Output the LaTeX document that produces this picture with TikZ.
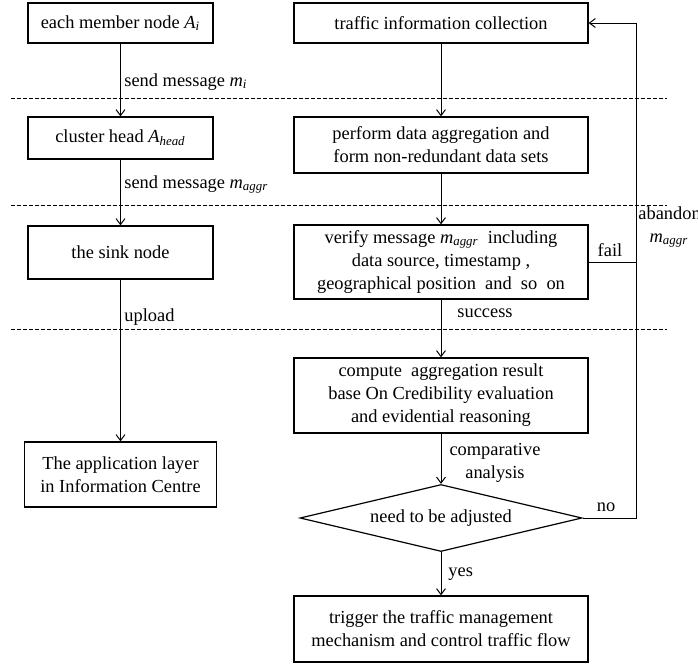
\documentclass[tikz,border=0pt]{standalone}
\usepackage{fontspec}
\setmainfont{Liberation Serif}
\usetikzlibrary{arrows.meta,shapes.geometric}
\newcommand{\sub}[2]{\textit{#1}\textsubscript{\textit{#2}}}
\begin{document}
\begin{tikzpicture}[x=0.5pt,y=-0.5pt,
  font=\fontsize{9.2}{11.5}\selectfont,
  box/.style={draw, line width=0.6pt, align=center, inner sep=1pt},
  lbox/.style={box, minimum width=92.5pt},
  rbox/.style={box, minimum width=147pt},
  arr/.style={line width=0.5pt, -{Straight Barb[length=3pt,width=4.5pt]}},
  conn/.style={line width=0.5pt},
  sep/.style={line width=0.45pt, dash pattern=on 2pt off 1pt},
  lab/.style={inner sep=1pt, align=center}]
\useasboundingbox (0,0) rectangle (698,664);
% separators
\draw[sep] (11,98) -- (667,98);
\draw[sep] (11,205) -- (667,205);
\draw[sep] (11,329) -- (667,329);
% left column
\node[lbox, minimum height=20pt] (ai) at (120.5,23) {each member node \sub{A}{i}};
\node[lbox, minimum height=21pt] (head) at (120.5,138) {cluster head \sub{A}{head}};
\node[lbox, minimum height=26.5pt] (sink) at (120.5,252.5) {the sink node};
\node[box, minimum width=96pt, minimum height=32.5pt] (app) at (120.5,474.5) {The application layer\\in Information Centre};
\draw[arr] (ai) -- (head);
\draw[arr] (head) -- (sink);
\draw[arr] (sink) -- (app);
\node[lab, anchor=west] (l1) at (122,82) {send message \sub{m}{i}};
\node[lab, anchor=west] (l2) at (122,184) {send message \sub{m}{aggr}};
\node[lab, anchor=west] (l3) at (122,317) {upload};
% right column
\node[rbox, minimum height=20pt] (traffic) at (441,23) {traffic information collection};
\node[rbox, minimum height=28pt] (perform) at (441,145) {perform data aggregation and\\form non-redundant data sets};
\node[rbox, minimum height=37pt] (verify) at (441,262) {verify message \sub{m}{aggr}\ \ including\\data source, timestamp ,\\geographical position\ \ and\ \ so\ \ on};
\node[rbox, minimum height=37.5pt] (compute) at (441,395.5) {compute\ \ aggregation result\\base On Credibility evaluation\\and evidential reasoning};
\node[draw, line width=0.6pt, diamond, aspect=4.21, inner sep=0pt, minimum width=141pt, minimum height=33.5pt] (adj) at (441,518) {need to be adjusted};
\node[rbox, minimum height=33pt] (trigger) at (441,629) {trigger the traffic management\\mechanism and control traffic flow};
\draw[arr] (traffic) -- (perform);
\draw[arr] (perform) -- (verify);
\draw[arr] (verify) -- (compute);
\draw[arr] (compute) -- (adj);
\draw[arr] (adj) -- (trigger);
% feedback loop
\coordinate (fbtop) at (636,23);
\coordinate (fbbot) at (636,518);
\draw[arr] (adj.east) -- (fbbot) -- (fbtop) -- (traffic.east);
\draw[conn] (verify.east) -- (verify.east -| fbtop);
% labels
\node[lab, anchor=west] (succ) at (455,313) {success};
\node[lab] (fail) at (610,250) {fail};
\node[lab, anchor=west] (aband) at (636,213) {abandon};
\node[lab] (aggr) at (669,241) {\sub{m}{aggr}};
\node[lab] (comp) at (495,462.5) {comparative\\analysis};
\node[lab] (no) at (606,507) {no};
\node[lab, anchor=west] (yes) at (446,574) {yes};
\end{tikzpicture}
\end{document}
